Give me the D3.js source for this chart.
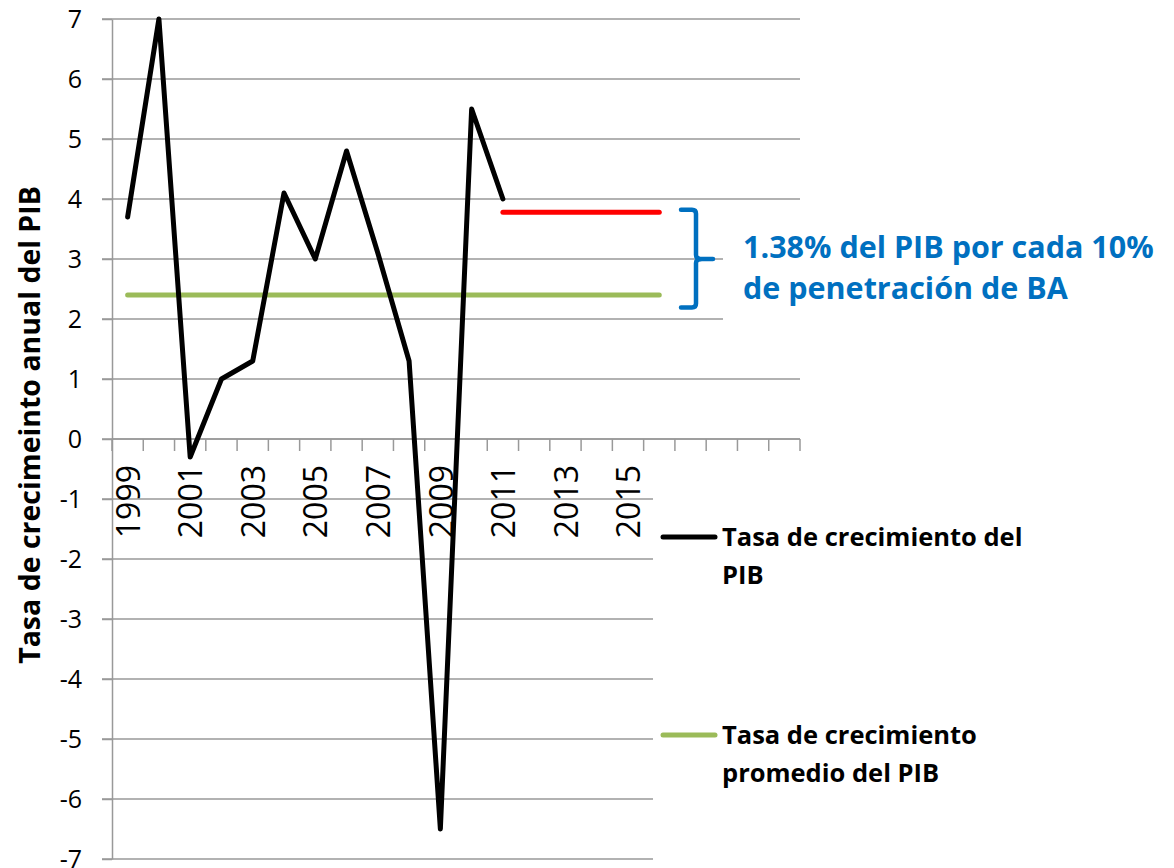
<!DOCTYPE html>
<html>
<head>
<meta charset="utf-8">
<script src="https://cdn.jsdelivr.net/npm/d3@7"></script>
<style>
  body { margin: 0; background: #fff; }
  svg { font-family: "Open Sans", sans-serif; }
</style>
</head>
<body>
<svg width="1174" height="868"></svg>
<script>
// categories on the x axis
const years = [1999, 2000, 2001, 2002, 2003, 2004, 2005, 2006, 2007, 2008, 2009,
  2010, 2011, 2012, 2013, 2014, 2015, 2016, 2017, 2018, 2019, 2020]
const yearLabels = [1999, 2001, 2003, 2005, 2007, 2009, 2011, 2013, 2015]
const yTicks = [-7, -6, -5, -4, -3, -2, -1, 0, 1, 2, 3, 4, 5, 6, 7]

// series
const growthYears = [1999, 2000, 2001, 2002, 2003, 2004, 2005, 2006, 2007, 2008, 2009, 2010, 2011]
const growth = [3.7, 7.0, -0.3, 1.0, 1.3, 4.1, 3.0, 4.8, 3.1, 1.3, -6.5, 5.5, 4.0]
const avgYears = [1999, 2016]
const avgGrowth = [2.4, 2.4]
const bbYears = [2011, 2016]
const bbGrowth = [3.78, 3.78]
const braceRange = [3.82, 3.0, 2.19]

const legendLabels = [
  ["Tasa de crecimiento del", "PIB"],
  ["Tasa de crecimiento", "promedio del PIB"]
]
const noteLines = ["1.38% del PIB por cada 10%", "de penetración de BA"]

let svg = d3.select("svg")
let margin = {top: 19, right: 374, bottom: 9, left: 112}
let width = svg.attr("width") - margin.left - margin.right
let height = svg.attr("height") - margin.top - margin.bottom

let x = d3.scaleBand().domain(years).range([0, width]).padding(0)
let y = d3.scaleLinear().domain([-7, 7]).range([height, 0])
let cx = d => x(d) + x.bandwidth() / 2

let g = svg.append("g")
  .attr("transform", "translate(" + margin.left + "," + margin.top + ")")

const gridColor = "#999999"

// horizontal gridlines
g.append("g")
  .selectAll("line")
  .data(yTicks)
  .join("line")
  .attr("x1", -10)
  .attr("x2", width)
  .attr("y1", d => y(d))
  .attr("y2", d => y(d))
  .attr("stroke", gridColor)
  .attr("stroke-width", 1.5)

// y axis (plain hyphen for negatives, like the original)
let yAxis = g.append("g")
  .call(d3.axisLeft(y).tickValues(yTicks).tickFormat(d => String(d))
    .tickSize(10).tickSizeOuter(0).tickPadding(20))
yAxis.select(".domain").attr("stroke", gridColor).attr("stroke-width", 1.5)
yAxis.selectAll(".tick line").attr("stroke", gridColor).attr("stroke-width", 1.5)
yAxis.selectAll("text")
  .attr("font-size", 25)
  .attr("font-family", "Open Sans")
  .attr("fill", "#000")

// x axis at zero
let x0 = g.append("g").attr("transform", "translate(0," + y(0) + ")")
x0.append("line")
  .attr("x1", 0).attr("x2", width)
  .attr("stroke", gridColor).attr("stroke-width", 1.5)
x0.selectAll(".xtick")
  .data(years.map(d => x(d)).concat([width]))
  .join("line")
  .attr("class", "xtick")
  .attr("x1", d => d).attr("x2", d => d)
  .attr("y1", 0).attr("y2", 12)
  .attr("stroke", gridColor).attr("stroke-width", 1.5)

x0.selectAll(".ylab")
  .data(yearLabels)
  .join("text")
  .attr("class", "ylab")
  .attr("transform", d => "translate(" + cx(d) + ",26) rotate(-90)")
  .attr("dy", "0.38em")
  .attr("text-anchor", "end")
  .attr("font-size", 32)
  .text(d => d)

// lines
let line = d3.line()
  .x(d => cx(d[0]))
  .y(d => y(d[1]))

g.append("path")
  .datum(d3.zip(avgYears, avgGrowth))
  .attr("d", line)
  .attr("fill", "none")
  .attr("stroke", "#9BBB59")
  .attr("stroke-width", 5)
  .attr("stroke-linecap", "round")

g.append("path")
  .datum(d3.zip(bbYears, bbGrowth))
  .attr("d", line)
  .attr("fill", "none")
  .attr("stroke", "#FF0000")
  .attr("stroke-width", 5)
  .attr("stroke-linecap", "round")

g.append("path")
  .datum(d3.zip(growthYears, growth))
  .attr("d", line)
  .attr("fill", "none")
  .attr("stroke", "#000")
  .attr("stroke-width", 5)
  .attr("stroke-linejoin", "round")
  .attr("stroke-linecap", "round")

// white boxes for legend and note (they sit over the grid)
svg.append("rect")
  .attr("x", 653).attr("y", 456)
  .attr("width", 521).attr("height", 412)
  .attr("fill", "#fff")
svg.append("rect")
  .attr("x", 723).attr("y", 214)
  .attr("width", 451).attr("height", 124)
  .attr("fill", "#fff")

// legend
const legendColors = ["#000", "#9BBB59"]
const legendY = [537, 735]
legendLabels.forEach((lab, i) => {
  let lg = svg.append("g").attr("transform", "translate(663," + legendY[i] + ")")
  lg.append("line")
    .attr("x1", 0).attr("x2", 52)
    .attr("stroke", legendColors[i])
    .attr("stroke-width", 5)
    .attr("stroke-linecap", "round")
  lg.selectAll("text")
    .data(lab)
    .join("text")
    .attr("x", 59)
    .attr("y", (d, j) => 9 + j * 38)
    .attr("font-size", 25.5)
    .attr("font-weight", "bold")
    .attr("fill", "#000")
    .text(d => d)
})

// brace + note
let by = d => margin.top + y(d)
let brace = d3.path()
brace.moveTo(681, by(braceRange[0]))
brace.lineTo(692, by(braceRange[0]))
brace.quadraticCurveTo(696, by(braceRange[0]), 696, by(braceRange[0]) + 4)
brace.lineTo(696, by(braceRange[1]) - 4)
brace.quadraticCurveTo(696, by(braceRange[1]), 702, by(braceRange[1]))
brace.lineTo(713, by(braceRange[1]))
brace.moveTo(702, by(braceRange[1]))
brace.quadraticCurveTo(696, by(braceRange[1]), 696, by(braceRange[1]) + 4)
brace.lineTo(696, by(braceRange[2]) - 4)
brace.quadraticCurveTo(696, by(braceRange[2]), 692, by(braceRange[2]))
brace.lineTo(681, by(braceRange[2]))

svg.append("path")
  .attr("d", brace.toString())
  .attr("fill", "none")
  .attr("stroke", "#0070C0")
  .attr("stroke-width", 4.5)
  .attr("stroke-linecap", "round")

svg.append("g")
  .selectAll("text")
  .data(noteLines)
  .join("text")
  .attr("x", 743)
  .attr("y", (d, i) => 258 + i * 41)
  .attr("font-size", 30.5)
  .attr("font-weight", "bold")
  .attr("fill", "#0070C0")
  .text(d => d)

// y axis title
svg.append("text")
  .attr("transform", "translate(30,425) rotate(-90)")
  .attr("dy", "0.35em")
  .attr("text-anchor", "middle")
  .attr("font-size", 28.5)
  .attr("font-weight", "bold")
  .text("Tasa de crecimeinto anual del PIB")
</script>
</body>
</html>
